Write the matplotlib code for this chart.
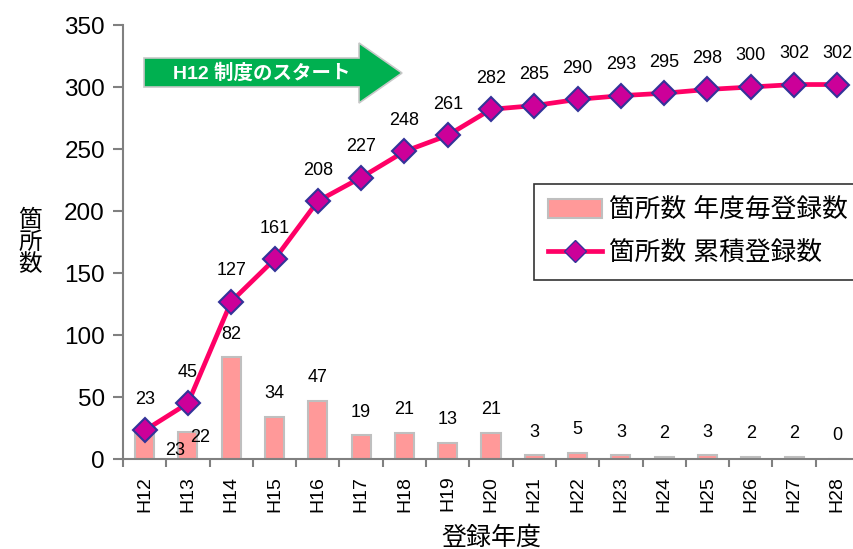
import matplotlib.pyplot as plt
from matplotlib.patches import Polygon, Patch
from matplotlib.lines import Line2D

plt.rcParams['font.family'] = ['Liberation Sans', 'Noto Sans CJK JP']

years = ['H12', 'H13', 'H14', 'H15', 'H16', 'H17', 'H18', 'H19', 'H20',
         'H21', 'H22', 'H23', 'H24', 'H25', 'H26', 'H27', 'H28']
per_year = [23, 22, 82, 34, 47, 19, 21, 13, 21, 3, 5, 3, 2, 3, 2, 2, 0]
cumulative = [23, 45, 127, 161, 208, 227, 248, 261, 282, 285, 290, 293,
              295, 298, 300, 302, 302]

W, H = 854, 549
fig = plt.figure(figsize=(W / 100, H / 100), dpi=100)
# axes runs past the right edge, as in the original screenshot
ax = fig.add_axes([123 / W, 90 / H, 736 / W, 434 / H])

x = list(range(len(years)))
ax.bar(x, per_year, width=0.44, color='#FF9999', edgecolor='#BFBFBF', linewidth=1.5, zorder=2)
ax.plot(x, cumulative, color='#FF0066', linewidth=3.4, marker='D', markersize=12,
        markerfacecolor='#CC0099', markeredgecolor='#333399', markeredgewidth=1.5, zorder=3)

# labels for the cumulative line
for i, v in enumerate(cumulative):
    ax.annotate(str(v), (i, v), xytext=(0, 31), textcoords='offset pixels',
                ha='center', va='center', fontsize=13)

# labels for the yearly bars (first two sit beside the bar)
for i, v in enumerate(per_year):
    if i == 0:
        off = (30, -20)
    elif i == 1:
        off = (12, -6)
    else:
        off = (0, 23)
    ax.annotate(str(v), (i, v), xytext=off, textcoords='offset pixels',
                ha='center', va='center', fontsize=13)

ax.set_xlim(-0.5, len(years) - 0.5)
ax.set_ylim(0, 350)
ax.set_yticks(range(0, 351, 50))
ax.set_xticks(x)
ax.set_xticklabels(years, rotation=90, fontsize=14)
ax.set_xticks([i + 0.5 for i in range(-1, len(years))], minor=True)
ax.tick_params(axis='x', which='major', length=0, pad=12)
ax.tick_params(axis='x', which='minor', length=6, width=1.5, color='#808080')
ax.tick_params(axis='y', length=7, width=1.5, color='#808080', labelsize=17.5, pad=6)

for s in ['top', 'right']:
    ax.spines[s].set_visible(False)
for s in ['left', 'bottom']:
    ax.spines[s].set_color('#808080')
    ax.spines[s].set_linewidth(1.5)

ax.set_xlabel('登録年度', fontsize=18, labelpad=10)
fig.text(30 / W, 1 - 243 / H, '箇\n所\n数', fontsize=17, ha='center', va='center',
         linespacing=1.0)

handles = [Patch(facecolor='#FF9999', edgecolor='#BFBFBF', linewidth=1.5),
           Line2D([], [], color='#FF0066', linewidth=3.4, marker='D', markersize=11,
                  markerfacecolor='#CC0099', markeredgecolor='#333399')]
leg = fig.legend(handles, ['箇所数 年度毎登録数', '箇所数 累積登録数'],
                 loc='upper left', bbox_to_anchor=(534 / W, 1 - 184 / H),
                 fontsize=18.5, frameon=True, fancybox=False, edgecolor='black',
                 handlelength=2.1, handleheight=0.75, borderpad=0.55, labelspacing=0.75,
                 handletextpad=0.25, borderaxespad=0)
leg.get_frame().set_linewidth(1.2)

# green "start" arrow
pts = [(144, 58), (359, 58), (359, 43), (402, 73), (359, 103), (359, 87), (144, 87)]
arrow = Polygon([(px / W, 1 - py / H) for px, py in pts], closed=True,
                transform=fig.transFigure, facecolor='#00B050', edgecolor='#C8C8C8',
                linewidth=1.2, zorder=5)
fig.patches.append(arrow)
fig.text(262 / W, 1 - 73 / H, 'H12 制度のスタート', color='white', fontsize=14,
         fontweight='bold', ha='center', va='center', zorder=6)

fig.savefig('out.png', dpi=100)
